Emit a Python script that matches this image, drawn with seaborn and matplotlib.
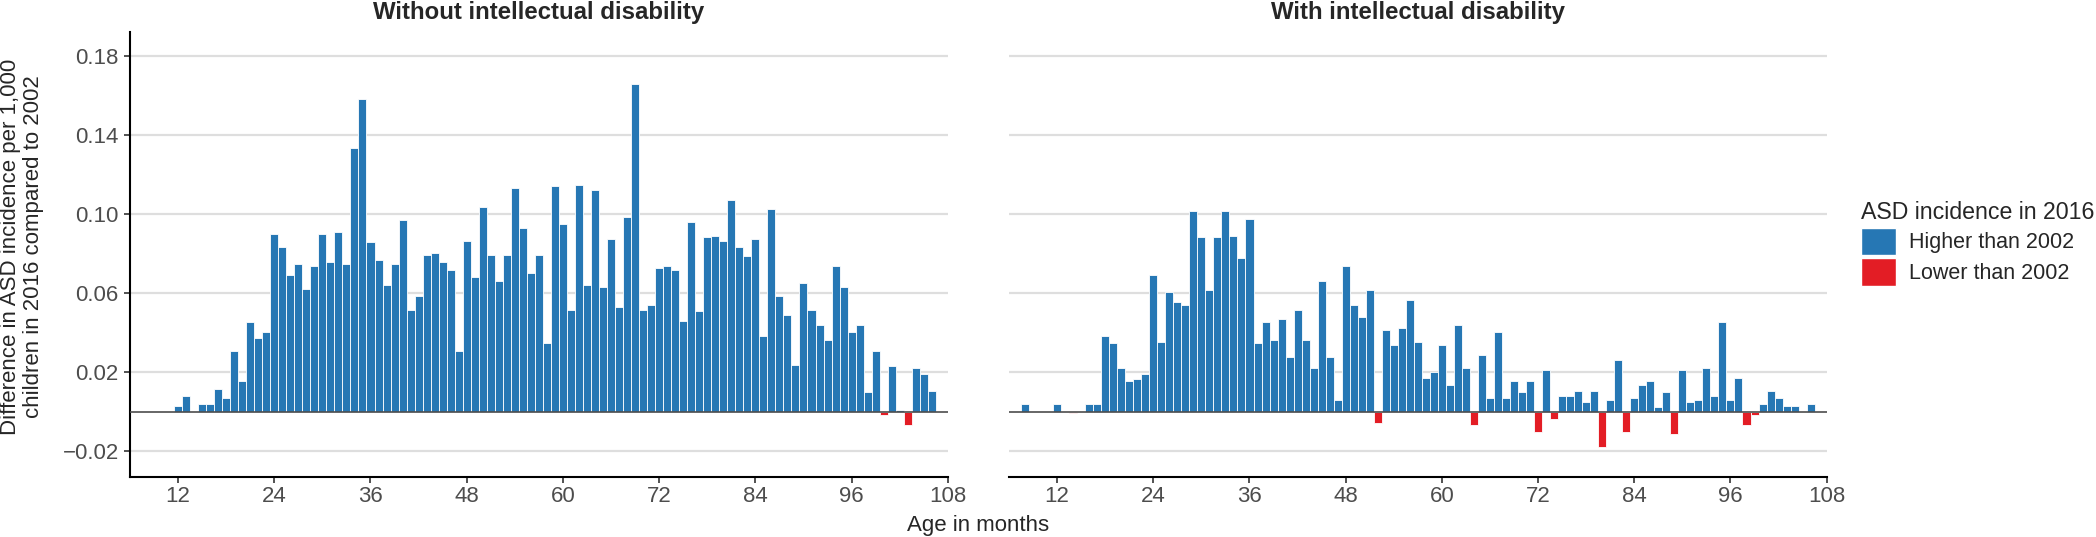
import matplotlib
matplotlib.use("Agg")
import matplotlib.pyplot as plt
from matplotlib.patches import Patch
from matplotlib.ticker import FuncFormatter
import seaborn as sns
import pandas as pd
import numpy as np

# age in months, one bar per month in each panel
months = list(range(6, 108))

without_id = [
    0, 0, 0, 0, 0, 0,
    0.0030, 0.0078, 0.0, 0.0038, 0.0038, 0.0116, 0.0069, 0.0309, 0.0155, 0.0452, 0.0374, 0.0403,
    0.0902, 0.0836, 0.0691, 0.0747, 0.0622, 0.0738, 0.0902, 0.0757, 0.0910, 0.0747, 0.1334, 0.1583,
    0.0860, 0.0767, 0.0643, 0.0747, 0.0969, 0.0517, 0.0584, 0.0795, 0.0803, 0.0757, 0.0719, 0.0307,
    0.0862, 0.0681, 0.1036, 0.0795, 0.0662, 0.0795, 0.1131, 0.0931, 0.0700, 0.0795, 0.0345, 0.1141,
    0.0948, 0.0517, 0.1150, 0.0643, 0.1121, 0.0633, 0.0872, 0.0528, 0.0988, 0.1659, 0.0517, 0.0538,
    0.0728, 0.0738, 0.0719, 0.0460, 0.0959, 0.0509, 0.0883, 0.0891, 0.0862, 0.1074, 0.0834, 0.0786,
    0.0872, 0.0383, 0.1026, 0.0586, 0.0488, 0.0238, 0.0652, 0.0517, 0.0441, 0.0364, 0.0738, 0.0633,
    0.0403, 0.0441, 0.0097, 0.0307, -0.0019, 0.0229, 0.0009, -0.0066, 0.0221, 0.0191, 0.0105, 0.0,
]

with_id = [
    0, 0, 0.0038, 0, 0, 0,
    0.0038, 0.0, -0.0009, 0.0, 0.0038, 0.0038, 0.0384, 0.0347, 0.0221, 0.0155, 0.0164, 0.0191,
    0.0690, 0.0355, 0.0605, 0.0557, 0.0538, 0.1017, 0.0883, 0.0614, 0.0883, 0.1016, 0.0891, 0.0776,
    0.0978, 0.0347, 0.0452, 0.0364, 0.0471, 0.0278, 0.0517, 0.0364, 0.0221, 0.0662, 0.0279, 0.0059,
    0.0738, 0.0538, 0.0479, 0.0614, -0.0057, 0.0412, 0.0336, 0.0422, 0.0566, 0.0355, 0.0172, 0.0202,
    0.0336, 0.0134, 0.0441, 0.0221, -0.0069, 0.0288, 0.0067, 0.0403, 0.0067, 0.0155, 0.0097, 0.0155,
    -0.0103, 0.0212, -0.0036, 0.0078, 0.0078, 0.0105, 0.0048, 0.0105, -0.0181, 0.0059, 0.0260, -0.0103,
    0.0067, 0.0134, 0.0155, 0.0021, 0.0097, -0.0114, 0.0212, 0.0048, 0.0059, 0.0221, 0.0078, 0.0452,
    0.0059, 0.0172, -0.0066, -0.0017, 0.0038, 0.0105, 0.0067, 0.0029, 0.0029, 0.0, 0.0038, 0.0,
]

panel_titles = ["Without intellectual disability", "With intellectual disability"]
fill_labels = ["Higher than 2002", "Lower than 2002"]
fill_colors = ["#2677B4", "#E31D25"]
x_ticks = [12, 24, 36, 48, 60, 72, 84, 96, 108]
y_ticks = [-0.02, 0.02, 0.06, 0.10, 0.14, 0.18]

sns.set_style("white")
plt.rcParams["font.family"] = ["Liberation Sans", "DejaVu Sans"]

fig = plt.figure(figsize=(20.96, 5.37), dpi=100)
axes = [fig.add_axes([0.0620, 0.1123, 0.3902, 0.8287]),
        fig.add_axes([0.4814, 0.1123, 0.3901, 0.8287])]

palette = dict(zip(fill_labels, fill_colors))
fmt = FuncFormatter(lambda v, pos: f"{v:.2f}".replace("-", "\u2212"))

for i, (ax, vals, title) in enumerate(zip(axes, [without_id, with_id], panel_titles)):
    df = pd.DataFrame({"month": months, "diff": vals})
    df["direction"] = np.where(df["diff"] < 0, fill_labels[1], fill_labels[0])
    sns.barplot(data=df, x="month", y="diff", hue="direction", hue_order=fill_labels,
                palette=palette, native_scale=True, dodge=False, width=1, saturation=1,
                edgecolor="white", linewidth=0.6, errorbar=None, legend=False, ax=ax)
    ax.axhline(0, color="#4D4D4D", lw=1.2, zorder=3)

    ax.set_xlim(6, 108)
    ax.set_ylim(-0.033, 0.1925)
    ax.set_xticks(x_ticks)
    ax.set_yticks(y_ticks)
    ax.yaxis.set_major_formatter(fmt)
    ax.yaxis.grid(True, color="#DEDEDE", lw=1.6)
    ax.xaxis.grid(False)
    ax.set_axisbelow(True)
    ax.set_xlabel("")
    ax.set_ylabel("")
    ax.set_title(title, fontsize=17.3, fontweight="bold", pad=9)

    for s in ["top", "right"]:
        ax.spines[s].set_visible(False)
    ax.spines["bottom"].set_color("black")
    ax.spines["bottom"].set_linewidth(1.5)
    ax.tick_params(axis="x", bottom=True, length=4, width=1.2, color="#333333",
                   labelsize=16, labelcolor="#4D4D4D", pad=3)
    if i == 0:
        ax.spines["left"].set_color("black")
        ax.spines["left"].set_linewidth(1.5)
        ax.tick_params(axis="y", left=True, length=4, width=1.2, color="#333333",
                       labelsize=16, labelcolor="#4D4D4D", pad=4)
    else:
        ax.spines["left"].set_visible(False)
        ax.tick_params(axis="y", left=False, labelleft=False)

fig.text(0.0105, 1 - 247 / 537,
         "Difference in ASD incidence per 1,000\nchildren in 2016 compared to 2002",
         rotation=90, ha="center", va="center", multialignment="center",
         fontsize=16, linespacing=1.15)
fig.text(978 / 2096, 1 - 525 / 537, "Age in months", ha="center", va="center", fontsize=16)

handles = [Patch(facecolor=c, edgecolor="white", label=l) for l, c in zip(fill_labels, fill_colors)]
fig.legend(handles=handles, title="ASD incidence in 2016", loc="upper left",
           bbox_to_anchor=(0.888, 0.625), frameon=False, fontsize=15.5, title_fontsize=16.7,
           handlelength=1.6, handleheight=1.6, handletextpad=0.6, labelspacing=0.15,
           borderpad=0, borderaxespad=0, alignment="left")

fig.savefig("out.png", dpi=100)
